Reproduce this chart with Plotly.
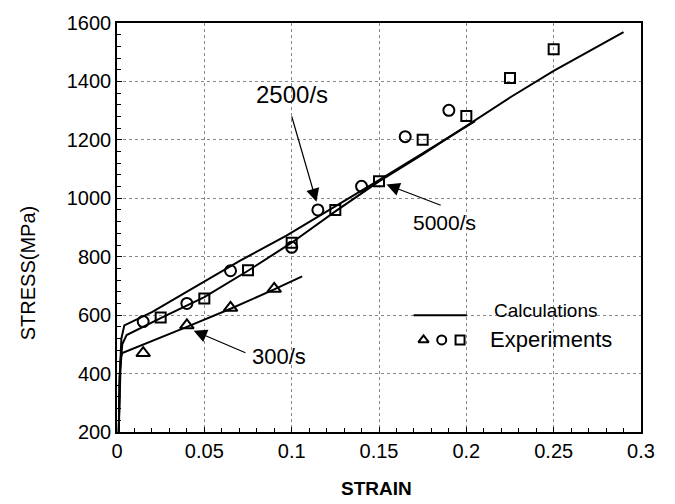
import plotly.graph_objects as go

# ---- Data ----
# Calculations (model curves)
calc_300_strain = [0.001, 0.0015, 0.0022, 0.003, 0.04, 0.065, 0.09, 0.106]
calc_300_stress = [200, 390, 455, 470, 560, 622, 688, 733]

calc_2500_strain = [0.001, 0.0015, 0.0025, 0.0042, 0.02, 0.046, 0.07, 0.097, 0.125, 0.15, 0.175, 0.205]
calc_2500_stress = [200, 380, 520, 565, 610, 700, 785, 872, 972, 1062, 1154, 1264]

calc_5000_strain = [0.001, 0.002, 0.003, 0.0055, 0.025, 0.05, 0.075, 0.1, 0.125, 0.15, 0.175, 0.2, 0.225, 0.25, 0.27, 0.29]
calc_5000_stress = [200, 420, 500, 532, 590, 662, 752, 848, 955, 1058, 1150, 1248, 1345, 1436, 1503, 1569]

# Experiments
exp_300_strain = [0.015, 0.04, 0.065, 0.09]
exp_300_stress = [470, 565, 625, 690]

exp_2500_strain = [0.015, 0.04, 0.065, 0.1, 0.115, 0.14, 0.165, 0.19]
exp_2500_stress = [578, 640, 752, 832, 960, 1041, 1211, 1301]

exp_5000_strain = [0.025, 0.05, 0.075, 0.1, 0.125, 0.15, 0.175, 0.2, 0.225, 0.25]
exp_5000_stress = [592, 657, 754, 848, 960, 1058, 1200, 1282, 1412, 1510]

x_ticks = [0, 0.05, 0.1, 0.15, 0.2, 0.25, 0.3]
x_tick_labels = ["0", "0.05", "0.1", "0.15", "0.2", "0.25", "0.3"]
y_ticks = [200, 400, 600, 800, 1000, 1200, 1400, 1600]

rate_labels = ["300/s", "2500/s", "5000/s"]
legend_labels = ["Calculations", "Experiments"]

FONT = "Liberation Sans, Arial, sans-serif"

fig = go.Figure()

line_style = dict(color="black", width=2)
for xs, ys in [(calc_300_strain, calc_300_stress),
               (calc_2500_strain, calc_2500_stress),
               (calc_5000_strain, calc_5000_stress)]:
    fig.add_trace(go.Scatter(x=xs, y=ys, mode="lines", line=line_style,
                             showlegend=False, hoverinfo="skip"))

for xs, ys, sym, sz in [(exp_300_strain, exp_300_stress, "triangle-up-open", 12),
                        (exp_2500_strain, exp_2500_stress, "circle-open", 11),
                        (exp_5000_strain, exp_5000_stress, "square-open", 10)]:
    fig.add_trace(go.Scatter(x=xs, y=ys, mode="markers",
                             marker=dict(symbol=sym, size=sz, color="black",
                                         line=dict(width=2, color="black")),
                             showlegend=False))

# Custom in-plot legend
fig.add_trace(go.Scatter(x=[0.1698, 0.2003], y=[600, 600], mode="lines",
                         line=dict(color="black", width=2), showlegend=False))
for lx, sym in [(0.1755, "triangle-up-open"), (0.1859, "circle-open"), (0.1964, "square-open")]:
    fig.add_trace(go.Scatter(x=[lx], y=[515], mode="markers",
                             marker=dict(symbol=sym, size=9, color="black",
                                         line=dict(width=2, color="black")),
                             showlegend=False))

arrow_style = dict(axref="x", ayref="y", xref="x", yref="y", text="", showarrow=True,
                   arrowhead=2, arrowsize=2.2, arrowwidth=1.2, arrowcolor="black")

annotations = [
    dict(x=0.2146, y=617, text=legend_labels[0], showarrow=False, xanchor="left",
         font=dict(size=19, family=FONT, color="black")),
    dict(x=0.2125, y=517, text=legend_labels[1], showarrow=False, xanchor="left",
         font=dict(size=22, family=FONT, color="black")),
    # rate labels
    dict(x=0.1004, y=1355, text=rate_labels[1], showarrow=False,
         font=dict(size=24, family=FONT, color="black")),
    dict(x=0.1875, y=917, text=rate_labels[2], showarrow=False,
         font=dict(size=21, family=FONT, color="black")),
    dict(x=0.0929, y=458, text=rate_labels[0], showarrow=False,
         font=dict(size=22, family=FONT, color="black")),
    # arrows
    dict(x=0.1142, y=988, ax=0.0998, ay=1285, **arrow_style),
    dict(x=0.1543, y=1047, ax=0.1862, ay=974, **arrow_style),
    dict(x=0.0439, y=547, ax=0.0744, ay=469, **arrow_style),
    # axis titles
    dict(x=-0.170, y=0.388, xref="paper", yref="paper", text="STRESS(MPa)", textangle=-90,
         xanchor="center", yanchor="middle",
         showarrow=False, font=dict(size=20, family=FONT, color="black")),
    dict(x=0.496, y=-0.139, xref="paper", yref="paper", text="<b>STRAIN</b>",
         xanchor="center", yanchor="middle",
         showarrow=False, font=dict(size=19, family=FONT, color="black")),
]

fig.update_layout(
    width=675, height=504,
    margin=dict(l=117, r=34, t=14, b=72),
    paper_bgcolor="white", plot_bgcolor="white",
    annotations=annotations,
    font=dict(family=FONT, color="black"),
)

fig.update_xaxes(range=[0, 0.3], tickvals=x_ticks, ticktext=x_tick_labels,
                 showline=True, linecolor="black", linewidth=1.5, mirror=True,
                 ticks="inside", ticklen=5, tickcolor="black",
                 showgrid=True, gridcolor="#888", gridwidth=1, griddash="dot",
                 zeroline=False, tickfont=dict(size=20, family=FONT, color="black"),
                 minor=dict(ticks="inside", dtick=0.01, ticklen=4, tickcolor="black", showgrid=False))
fig.update_yaxes(range=[200, 1600], tickvals=y_ticks,
                 showline=True, linecolor="black", linewidth=1.5, mirror=True,
                 ticks="inside", ticklen=5, tickcolor="black",
                 showgrid=True, gridcolor="#888", gridwidth=1, griddash="dot",
                 zeroline=False, tickfont=dict(size=20, family=FONT, color="black"),
                 minor=dict(ticks="inside", dtick=40, ticklen=4, tickcolor="black", showgrid=False))

fig.write_html("out.html")
